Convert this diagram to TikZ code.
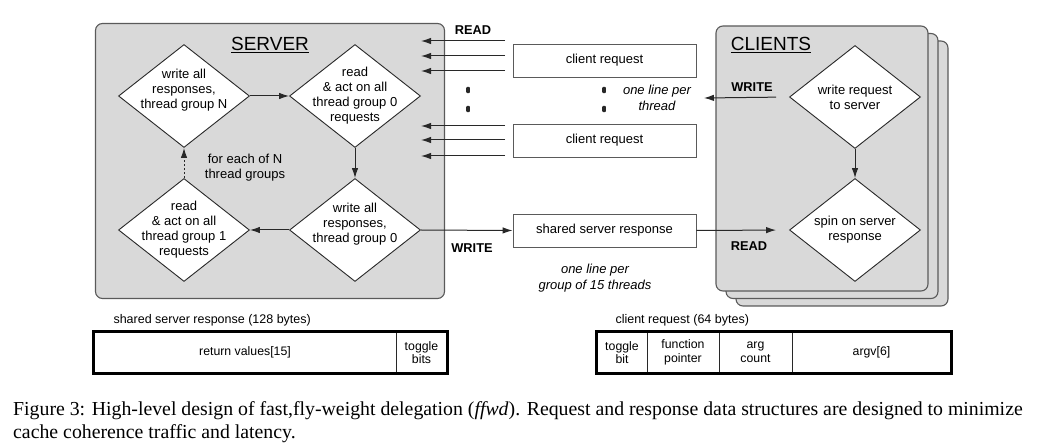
\documentclass[tikz,border=0pt]{standalone}
\usepackage{fontspec}
\setmainfont{Liberation Sans}
\newfontfamily\capfont{Liberation Serif}
\usepackage{xcolor}
\usepackage{tikz}
\usetikzlibrary{shapes.geometric,arrows.meta}

\definecolor{panelgray}{RGB}{217,217,217}
\definecolor{rimgray}{RGB}{90,90,90}
\definecolor{inkgray}{RGB}{40,40,40}

\tikzset{
	panel/.style={draw=rimgray, fill=panelgray, line width=1.1pt, rounded corners=7pt},
	stepnode/.style={diamond, aspect=1.27, draw=inkgray, fill=white, line width=0.9pt, minimum width=131pt,
		minimum height=103pt, inner sep=-7pt, align=center, font=\fontsize{13}{15}\selectfont},
	raised/.style={text depth=14pt},
	linebox/.style={draw=rimgray, fill=white, line width=0.9pt, minimum width=183pt,
		minimum height=33pt, font=\fontsize{13}{15}\selectfont},
	field/.style={draw=inkgray, line width=0.9pt, minimum height=41pt, inner sep=0pt,
		align=center, font=\fontsize{12.3}{13.5}\selectfont},
	flow/.style={draw=inkgray, line width=1pt, -{Latex[length=10pt,width=6.5pt]}},
	tag/.style={font=\fontsize{12.8}{15}\selectfont\bfseries},
	note/.style={align=center, font=\fontsize{13}{15.5}\selectfont\itshape},
	plain/.style={align=center, font=\fontsize{13}{15}\selectfont},
	title/.style={font=\fontsize{19}{22}\selectfont}
}

\begin{document}
\begin{tikzpicture}[x=1pt, y=-1pt]
	\useasboundingbox (0,0) rectangle (1042,446);
	
	% server panel
	\node[panel, minimum width=349pt, minimum height=275pt] (server) at (270,161) {};
	\node[title] (servertitle) at (270,45) {\underline{SERVER}};
	
	% client panels, back to front
	\foreach \n/\x/\y in {c3/842/173.5, c2/832/166, c1/822/158.5}{
		\node[panel, minimum width=212pt, minimum height=265pt] (\n) at (\x,\y) {};
	}
	\node[title] (clienttitle) at (771,45) {\underline{CLIENTS}};
	
	% server loop
	\node[stepnode, raised] (wrN) at (184,96) {write all\\responses,\\thread group N};
	\node[stepnode] (rd0) at (355,96) {read\\\& act on all\\thread group 0\\requests};
	\node[stepnode, raised] (wr0) at (355,230) {write all\\responses,\\thread group 0};
	\node[stepnode] (rd1) at (184,230) {read\\\& act on all\\thread group 1\\requests};
	\node[plain] (loopnote) at (245,168) {for each of N\\thread groups};
	
	\draw[flow] (wrN.east) -- (rd0.west);
	\draw[flow] (rd0.south) -- (wr0.north);
	\draw[flow] (wr0.west) -- (rd1.east);
	\draw[flow, dash pattern=on 2.5pt off 1.5pt] (rd1.north) -- (wrN.south);
	
	% client loop
	\node[stepnode] (cwr) at (855,97) {write request\\to server};
	\node[stepnode] (cspin) at (855,230) {spin on server\\response};
	\draw[flow] (cwr.south) -- (cspin.north);
	
	% cache lines
	\node[linebox] (reqA) at (604.5,60.5) {client request};
	\node[linebox] (reqB) at (604.5,140.5) {client request};
	\node[linebox] (resp) at (604.5,230.5) {shared server response};
	
	% READ arrows into the server
	\foreach \i/\y in {1/41, 2/56, 3/71, 4/126, 5/140, 6/156}{
		\coordinate (from\i) at (505,\y);
		\coordinate (to\i) at (421,\y);
		\draw[flow] (from\i) -- (to\i);
	}
	\node[tag] (srvread) at (473,30) {READ};
	
	% dots between the lines
	\foreach \x/\y in {468/90, 468/109, 604/90, 604/109}{
		\fill[inkgray, rounded corners=1pt] (\x-1.8,\y-3.2) rectangle (\x+1.8,\y+3.2);
	}
	\node[note] (perthread) at (657,98) {one line per\\thread};
	
	% WRITE from the server
	\draw[flow] (wr0.east) -- (resp.west);
	\node[tag] (srvwrite) at (472,248) {WRITE};
	\node[note] (pergroup) at (595,278) {one line per\\group of 15 threads};
	
	% client side arrows
	\coordinate (wtip) at (704,98);
	\draw[flow, shorten <=13pt] (cwr.west) -- (wtip);
	\node[tag] (cliwrite) at (752,87) {WRITE};
	\draw[flow, shorten >=13pt] (resp.east) -- (cspin.west);
	\node[tag] (cliread) at (749,246) {READ};
	
	% data layouts
	\node[plain, anchor=west, font=\fontsize{12.5}{15}\selectfont] (resplabel) at (110,320) {shared server response (128 bytes)};
	\node[field, minimum width=302pt] (retval) at (245,352.5) {return values[15]};
	\node[field, minimum width=51pt] (togbits) at (421.5,352.5) {toggle\\bits};
	\draw[line width=2.4pt] (retval.north west) rectangle (togbits.south east);
	
	\node[plain, anchor=west, font=\fontsize{12.5}{15}\selectfont] (reqlabel) at (612,320) {client request (64 bytes)};
	\foreach \n/\x/\w/\t in {togbit/622/50/{toggle\\bit}, fptr/683/72/{function\\pointer},
		acount/755.5/73/{arg\\count}, argv/871.5/159/{argv[6]}}{
		\node[field, minimum width=\w pt] (\n) at (\x,352.5) {\t};
	}
	\draw[line width=2.4pt] (togbit.north west) rectangle (argv.south east);
	
	% caption
	\node[anchor=north west, align=left, inner sep=0pt, font=\capfont\fontsize{19.8}{23}\selectfont]
		(caption) at (13,401) {Figure 3: High-level design of fast,fly-weight delegation (\textit{ffwd}). Request and response data structures are designed to minimize\\cache coherence traffic and latency.};
\end{tikzpicture}
\end{document}
